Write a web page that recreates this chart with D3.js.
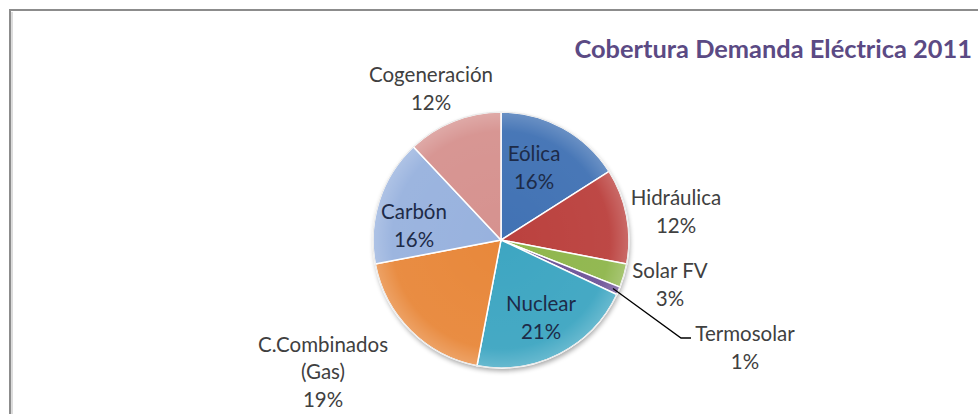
<!DOCTYPE html>
<html lang="es">
<head>
<meta charset="utf-8">
<title>Cobertura Demanda Eléctrica 2011</title>
<script src="https://d3js.org/d3.v7.min.js"></script>
<style>
  body { margin: 0; background: #ffffff; }
  svg { display: block; font-family: Lato, "Open Sans", sans-serif; }
</style>
</head>
<body>
<div id="container"></div>
<script>
// data
var categories = ["Eólica", "Hidráulica", "Solar FV", "Termosolar", "Nuclear", "C.Combinados (Gas)", "Carbón", "Cogeneración"];
var shares = [16, 12, 3, 1, 21, 19, 16, 12];
var sliceColors = ["#4172b4", "#bb413e", "#8fb64c", "#705599", "#3ea6c2", "#e8883b", "#98b2de", "#d6928f"];
// label lines (multi-line) and whether the label sits inside the slice
var labelLines = [["Eólica", "16%"], ["Hidráulica", "12%"], ["Solar FV", "3%"], ["Termosolar", "1%"],
                  ["Nuclear", "21%"], ["C.Combinados", "(Gas)", "19%"], ["Carbón", "16%"], ["Cogeneración", "12%"]];
var labelInside = [true, false, false, false, true, false, true, false];
var title = "Cobertura Demanda Eléctrica 2011";

var w = 978, h = 414;
var cx = 501, cy = 240, r = 128;

var svg = d3.select("#container").append("svg")
  .attr("width", w).attr("height", h);

// frame of the chart area (runs off right and bottom)
svg.append("rect").attr("x", 10).attr("y", 10).attr("width", w + 20).attr("height", h + 20)
  .attr("fill", "#ffffff").attr("stroke", "#8c8c8c").attr("stroke-width", 2);
svg.append("line").attr("x1", 12).attr("y1", 12).attr("x2", 12).attr("y2", h)
  .attr("stroke", "#dcdcdc").attr("stroke-width", 2);

svg.append("text").attr("x", 972).attr("y", 58).attr("text-anchor", "end")
  .attr("font-size", 25.4).attr("font-weight", "bold").attr("fill", "#5b4a84")
  .text(title);

var defs = svg.append("defs");
var shadow = defs.append("filter").attr("id", "shadow").attr("x", "-20%").attr("y", "-20%").attr("width", "140%").attr("height", "140%");
shadow.append("feGaussianBlur").attr("in", "SourceAlpha").attr("stdDeviation", 2.5);
shadow.append("feOffset").attr("dx", 1).attr("dy", 3).attr("result", "b");
shadow.append("feComponentTransfer").append("feFuncA").attr("type", "linear").attr("slope", 0.35);
var mrg = shadow.append("feMerge");
mrg.append("feMergeNode");
mrg.append("feMergeNode").attr("in", "SourceGraphic");

// soft radial shading like Excel 2007
var grad = defs.append("radialGradient").attr("id", "shade").attr("cx", "50%").attr("cy", "50%").attr("r", "50%");
grad.append("stop").attr("offset", "0%").attr("stop-color", "#ffffff").attr("stop-opacity", 0);
grad.append("stop").attr("offset", "85%").attr("stop-color", "#ffffff").attr("stop-opacity", 0.04);
grad.append("stop").attr("offset", "100%").attr("stop-color", "#ffffff").attr("stop-opacity", 0.22);

var pie = d3.pie().sort(null).value(function(d) { return d; });
var arcs = pie(shares);
var arc = d3.arc().innerRadius(0).outerRadius(r);

var g = svg.append("g").attr("transform", "translate(" + cx + "," + cy + ")");

g.append("circle").attr("r", r).attr("fill", "#ffffff").attr("filter", "url(#shadow)");

g.selectAll("path.slice")
  .data(arcs)
  .enter()
  .append("path")
  .attr("class", "slice")
  .attr("d", arc)
  .attr("fill", function(d, i) { return sliceColors[i]; })
  .attr("stroke", "#ffffff")
  .attr("stroke-width", 1.5);

g.append("circle").attr("r", r).attr("fill", "url(#shade)").attr("stroke", "#e8e8e8").attr("stroke-width", 1);

// label positions (absolute, centre of the text block)
var labelPos = [[534, 168], [676, 212], [670, 285], [745, 348], [541, 318], [323, 372], [414, 226], [431, 89]];

var lineH = 27.5;
labelLines.forEach(function(lines, i) {
  var t = svg.append("text")
    .attr("text-anchor", "middle")
    .attr("font-size", 20.5)
    .attr("fill", labelInside[i] ? "#1d2b48" : "#404040");
  var top = labelPos[i][1] - (lines.length - 1) * lineH / 2;
  lines.forEach(function(s, j) {
    t.append("tspan").attr("x", labelPos[i][0]).attr("y", top + j * lineH).attr("dy", "0.35em").text(s);
  });
});

// leader line for Termosolar
var termo = arcs[3];
var mid = (termo.startAngle + termo.endAngle) / 2;
var p0 = [cx + Math.sin(mid) * (r - 6), cy - Math.cos(mid) * (r - 6)];
svg.append("polyline")
  .attr("points", [p0, [681, 338], [691, 338]].map(function(p) { return p.join(","); }).join(" "))
  .attr("fill", "none").attr("stroke", "#000000").attr("stroke-width", 1.3);
</script>
</body>
</html>
